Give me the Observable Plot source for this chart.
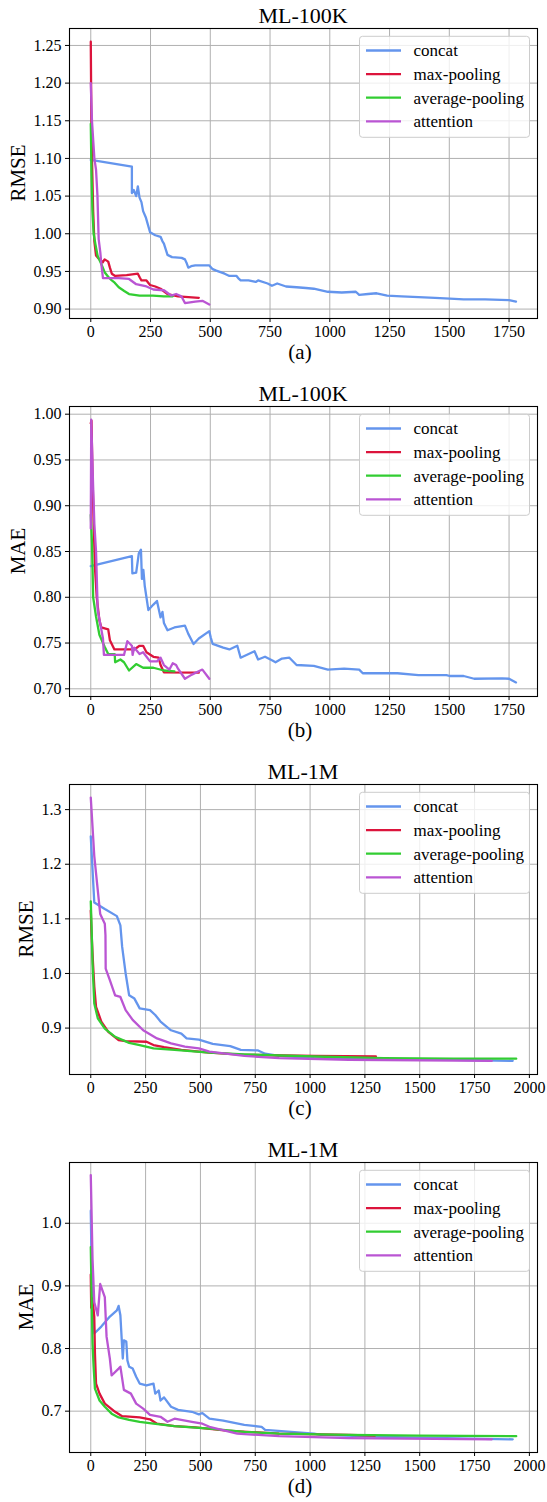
<!DOCTYPE html>
<html><head><meta charset="utf-8">
<script src="https://cdn.jsdelivr.net/npm/d3@7"></script>
<script src="https://cdn.jsdelivr.net/npm/@observablehq/plot@0.6"></script>
<style>
body{margin:0;background:#fff}
svg{display:block}
#chart svg, #chart svg g, #chart svg text{font-family:'Liberation Serif','Times New Roman',serif !important}
</style>
</head><body><div id="chart"></div>
<script>
// ---- series names & colors ----
const seriesNames = ["concat", "max-pooling", "average-pooling", "attention"];
const seriesColors = ["#6495ED", "#DC143C", "#32CD32", "#BA55D3"];

// ---- tick labels ----
const xTicks100k = [0, 250, 500, 750, 1000, 1250, 1500, 1750];
const xTicks1m = [0, 250, 500, 750, 1000, 1250, 1500, 1750, 2000];
const yTicksA = [0.90, 0.95, 1.00, 1.05, 1.10, 1.15, 1.20, 1.25];
const yTicksB = [0.70, 0.75, 0.80, 0.85, 0.90, 0.95, 1.00];
const yTicksC = [0.9, 1.0, 1.1, 1.2, 1.3];
const yTicksD = [0.7, 0.8, 0.9, 1.0];

// ---- (a) ML-100K RMSE ----
const aConcat = [[0,1.098],[172,1.089],[172,1.054],[180,1.058],[190,1.050],[197,1.063],[204,1.048],[212,1.042],[219,1.030],[230,1.022],[248,1.002],[270,0.998],[292,0.996],[300,0.990],[306,0.987],[315,0.978],[321,0.972],[340,0.969],[380,0.968],[394,0.966],[400,0.962],[408,0.955],[420,0.957],[437,0.958],[470,0.958],[496,0.958],[510,0.953],[525,0.951],[560,0.947],[580,0.944],[610,0.944],[620,0.940],[627,0.938],[660,0.938],[690,0.936],[700,0.938],[740,0.934],[758,0.931],[780,0.934],[817,0.930],[861,0.929],[900,0.928],[933,0.927],[992,0.923],[1050,0.922],[1109,0.923],[1123,0.919],[1160,0.920],[1196,0.921],[1240,0.918],[1300,0.917],[1371,0.916],[1440,0.915],[1502,0.914],[1560,0.913],[1650,0.913],[1750,0.912],[1779,0.910]];
const aMax = [[0,1.255],[2,1.17],[5,1.10],[10,1.03],[15,0.99],[22,0.971],[30,0.968],[44,0.964],[50,0.962],[58,0.966],[73,0.963],[80,0.955],[88,0.947],[102,0.944],[150,0.945],[197,0.947],[205,0.942],[212,0.938],[233,0.938],[248,0.932],[270,0.930],[292,0.927],[321,0.920],[365,0.917],[452,0.915]];
const aAvg = [[0,1.146],[3,1.08],[7,1.03],[12,1.0],[20,0.985],[29,0.97],[44,0.96],[58,0.949],[75,0.942],[88,0.938],[100,0.935],[117,0.929],[140,0.924],[160,0.920],[204,0.918],[260,0.918],[306,0.917],[343,0.917]];
const aAtt = [[0,1.20],[5,1.15],[15,1.10],[22,1.085],[28,1.05],[33,0.993],[40,0.975],[44,0.960],[51,0.941],[117,0.941],[160,0.940],[190,0.933],[233,0.930],[262,0.926],[306,0.925],[336,0.918],[357,0.920],[379,0.917],[394,0.908],[437,0.910],[467,0.911],[496,0.906]];

// ---- (b) ML-100K MAE ----
const bConcat = [[0,0.834],[172,0.845],[174,0.826],[190,0.827],[201,0.848],[210,0.852],[214,0.820],[220,0.830],[226,0.812],[241,0.786],[262,0.792],[277,0.796],[292,0.778],[300,0.784],[306,0.772],[321,0.764],[350,0.767],[394,0.769],[408,0.760],[430,0.749],[452,0.755],[496,0.763],[502,0.756],[510,0.749],[554,0.745],[580,0.743],[613,0.747],[627,0.734],[685,0.741],[700,0.732],[729,0.735],[760,0.731],[773,0.729],[800,0.733],[831,0.734],[861,0.726],[933,0.725],[992,0.721],[1060,0.722],[1123,0.721],[1138,0.717],[1283,0.717],[1371,0.715],[1488,0.715],[1502,0.714],[1560,0.714],[1604,0.711],[1721,0.7115],[1750,0.711],[1779,0.707]];
const bMax = [[0,0.990],[3,0.993],[6,0.95],[12,0.88],[18,0.83],[25,0.80],[36,0.775],[44,0.767],[58,0.766],[73,0.765],[80,0.753],[99,0.743],[182,0.743],[204,0.747],[219,0.747],[233,0.740],[262,0.735],[284,0.734],[292,0.726],[306,0.718],[452,0.7176]];
const bAvg = [[0,0.89],[5,0.86],[10,0.80],[22,0.779],[36,0.759],[58,0.746],[73,0.738],[100,0.738],[102,0.729],[124,0.732],[139,0.729],[160,0.720],[190,0.727],[219,0.723],[262,0.723],[306,0.720],[350,0.719]];
const bAtt = [[0,0.875],[2,0.994],[5,0.965],[10,0.92],[15,0.88],[22,0.85],[29,0.786],[44,0.765],[51,0.755],[55,0.737],[139,0.737],[153,0.752],[172,0.747],[175,0.737],[182,0.745],[204,0.738],[219,0.740],[248,0.730],[277,0.730],[292,0.734],[306,0.726],[329,0.721],[343,0.728],[357,0.726],[365,0.722],[394,0.711],[423,0.7155],[467,0.721],[496,0.711]];

// ---- (c) ML-1M RMSE ----
const cConcat = [[0,1.251],[16,1.130],[64,1.118],[119,1.105],[135,1.088],[143,1.049],[159,1.0],[175,0.96],[199,0.954],[223,0.936],[270,0.933],[294,0.924],[318,0.912],[366,0.896],[413,0.890],[437,0.881],[493,0.879],[556,0.871],[636,0.867],[684,0.860],[763,0.859],[795,0.853],[859,0.849],[1018,0.845],[1336,0.843],[1654,0.842],[1924,0.840]];
const cMax = [[0,1.115],[3,1.08],[10,1.02],[16,0.976],[24,0.939],[48,0.912],[80,0.893],[127,0.878],[159,0.876],[254,0.875],[286,0.869],[334,0.865],[413,0.860],[541,0.855],[700,0.851],[1018,0.849],[1300,0.848]];
const cAvg = [[0,1.132],[4,1.08],[8,1.018],[16,0.945],[32,0.918],[64,0.899],[111,0.884],[175,0.873],[223,0.869],[286,0.863],[382,0.860],[541,0.855],[700,0.852],[1018,0.848],[1336,0.845],[1654,0.844],[1940,0.844]];
const cAtt = [[0,1.322],[16,1.215],[43,1.109],[64,1.091],[67,1.07],[68,1.009],[87,0.988],[111,0.960],[135,0.957],[159,0.933],[191,0.915],[239,0.896],[302,0.881],[366,0.872],[429,0.866],[493,0.863],[541,0.857],[700,0.849],[859,0.845],[1177,0.842],[1829,0.840]];

// ---- (d) ML-1M MAE ----
const dConcat = [[0,1.02],[3,0.95],[8,0.87],[16,0.824],[48,0.835],[87,0.851],[119,0.861],[127,0.868],[135,0.853],[146,0.784],[151,0.813],[162,0.811],[167,0.781],[175,0.771],[191,0.768],[207,0.755],[223,0.744],[254,0.741],[286,0.744],[294,0.728],[310,0.733],[318,0.717],[334,0.722],[366,0.707],[398,0.702],[461,0.699],[493,0.695],[509,0.697],[541,0.688],[604,0.685],[700,0.678],[779,0.675],[795,0.670],[1018,0.664],[1050,0.662],[1336,0.659],[1924,0.655]];
const dMax = [[0,0.918],[2,0.865],[8,0.88],[16,0.85],[19,0.792],[24,0.744],[40,0.728],[64,0.712],[111,0.699],[143,0.692],[223,0.690],[270,0.687],[302,0.680],[382,0.676],[477,0.674],[620,0.669],[859,0.664],[1177,0.662],[1296,0.661]];
const dAvg = [[0,0.962],[4,0.88],[8,0.808],[13,0.771],[19,0.736],[40,0.717],[64,0.707],[95,0.696],[127,0.690],[175,0.686],[223,0.683],[286,0.680],[382,0.676],[541,0.672],[700,0.667],[859,0.664],[1177,0.662],[1495,0.661],[1940,0.660]];
const dAtt = [[0,1.077],[8,0.943],[16,0.874],[32,0.853],[43,0.903],[64,0.882],[72,0.819],[87,0.784],[95,0.757],[127,0.768],[135,0.771],[151,0.734],[183,0.728],[207,0.712],[239,0.704],[270,0.694],[318,0.691],[350,0.683],[382,0.688],[461,0.683],[509,0.680],[541,0.675],[668,0.664],[859,0.660],[1177,0.657],[1829,0.655]];

const FONT = "'Liberation Serif','Times New Roman',serif";

function panel(cfg) {
  const W = 547, H = 378, mt = 28, mb = 60, ml = 69, mr = 10;
  const data = cfg.series.flatMap((vals, i) => vals.map(([x, y]) => ({name: seriesNames[i], x, y})));
  const svgEl = Plot.plot({
    width: W, height: H, marginTop: mt, marginBottom: mb, marginLeft: ml, marginRight: mr,
    style: {fontFamily: FONT, fontSize: "16px", color: "#000", background: "#fff", overflow: "visible"},
    x: {domain: cfg.xDomain, ticks: cfg.xTicks, tickSize: 4, tickPadding: 3, label: null, tickFormat: d => String(d)},
    y: {domain: cfg.yDomain, ticks: cfg.yTicks, tickSize: 4, tickPadding: 4, label: null, tickFormat: cfg.yFormat},
    color: {domain: seriesNames, range: seriesColors},
    marks: [
      Plot.ruleX(cfg.xTicks, {stroke: "#b0b0b0", strokeWidth: 1}),
      Plot.ruleY(cfg.yTicks, {stroke: "#b0b0b0", strokeWidth: 1}),
      Plot.line(data, {x: "x", y: "y", z: "name", stroke: "name", strokeWidth: 2.3, strokeLinejoin: "round"}),
      Plot.frame({stroke: "#000", strokeWidth: 1.1})
    ]
  });
  const svg = d3.select(svgEl);
  svg.selectAll("text, g").attr("font-family", FONT).style("font-family", FONT);
  const fl = ml, fr = W - mr, ft = mt, fb = H - mb, cx = (fl + fr) / 2;
  svg.append("text").attr("x", cx).attr("y", 23).attr("text-anchor", "middle")
    .attr("font-family", FONT).attr("font-size", 22).attr("fill", "#000").text(cfg.title);
  svg.append("text").attr("x", cx - 3).attr("y", 359).attr("text-anchor", "middle")
    .attr("font-family", FONT).attr("font-size", 21).attr("fill", "#000").text(cfg.caption);
  svg.append("text").attr("transform", `translate(${cfg.ylabelX},${(ft + fb) / 2}) rotate(-90)`)
    .attr("text-anchor", "middle").attr("dy", "0.35em")
    .attr("font-family", FONT).attr("font-size", 21).attr("fill", "#000").text(cfg.ylabel);
  // legend
  const lg = svg.append("g");
  const bx0 = fr - 177.5, bx1 = fr - 7.5, by0 = ft + 8.3, by1 = ft + 109.3;
  lg.append("rect").attr("x", bx0).attr("y", by0).attr("width", bx1 - bx0).attr("height", by1 - by0)
    .attr("rx", 3).attr("fill", "#fff").attr("fill-opacity", 0.8).attr("stroke", "#cccccc").attr("stroke-width", 1);
  seriesNames.forEach((n, i) => {
    const yy = ft + 22.5 + i * 23.6;
    lg.append("line").attr("x1", bx0 + 6.5).attr("x2", bx0 + 41.5).attr("y1", yy).attr("y2", yy)
      .attr("stroke", seriesColors[i]).attr("stroke-width", 2.3);
    lg.append("text").attr("x", bx0 + 54).attr("y", yy).attr("dy", "0.35em").attr("text-anchor", "start")
      .attr("font-family", FONT).attr("font-size", 17).attr("fill", "#000").text(n);
  });
  return svgEl;
}

const f2 = d => d.toFixed(2), f1 = d => d.toFixed(1);
const root = document.getElementById("chart");
root.append(panel({title: "ML-100K", caption: "(a)", ylabel: "RMSE", series: [aConcat, aMax, aAvg, aAtt],
  xDomain: [-89, 1869], xTicks: xTicks100k, yDomain: [0.8875, 1.2725], yTicks: yTicksA, yFormat: f2, ylabelX: 17.5}));
root.append(panel({title: "ML-100K", caption: "(b)", ylabel: "MAE", series: [bConcat, bMax, bAvg, bAtt],
  xDomain: [-89, 1869], xTicks: xTicks100k, yDomain: [0.6916, 1.0084], yTicks: yTicksB, yFormat: f2, ylabelX: 17.5}));
root.append(panel({title: "ML-1M", caption: "(c)", ylabel: "RMSE", series: [cConcat, cMax, cAvg, cAtt],
  xDomain: [-97, 2037], xTicks: xTicks1m, yDomain: [0.815, 1.346], yTicks: yTicksC, yFormat: f1, ylabelX: 26}));
root.append(panel({title: "ML-1M", caption: "(d)", ylabel: "MAE", series: [dConcat, dMax, dAvg, dAtt],
  xDomain: [-97, 2037], xTicks: xTicks1m, yDomain: [0.634, 1.097], yTicks: yTicksD, yFormat: f1, ylabelX: 26}));
</script></body></html>
